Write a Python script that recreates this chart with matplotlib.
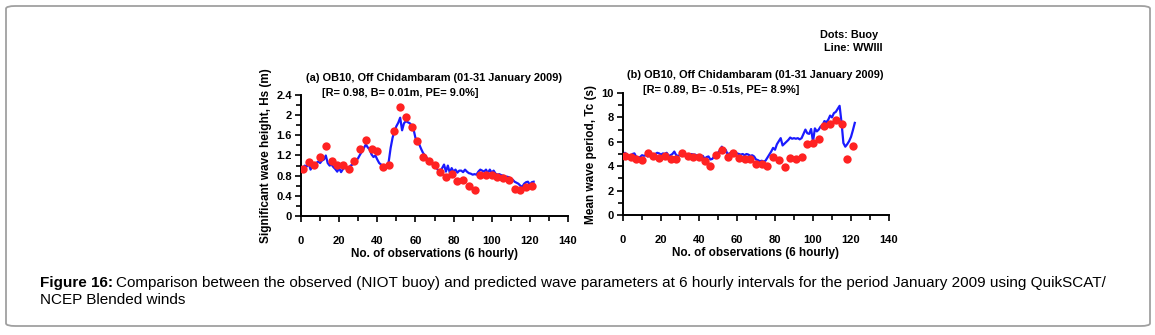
import matplotlib
matplotlib.use("Agg")
import matplotlib.pyplot as plt
from matplotlib.patches import FancyBboxPatch
from matplotlib.ticker import MultipleLocator, FuncFormatter

plt.rcParams['font.family'] = ['Liberation Sans', 'DejaVu Sans']

# ---------------- data ----------------
buoy_x = [1, 4, 7, 10, 13, 16, 19, 22, 25, 28, 31, 34, 37, 40, 43, 46, 49, 52, 55, 58,
          61, 64, 67, 70, 73, 76, 79, 82, 85, 88, 91, 94, 97, 100, 103, 106, 109, 112,
          115, 118, 121]

hs_buoy = [0.94, 1.07, 1.02, 1.18, 1.38, 1.10, 1.01, 1.02, 0.94, 1.09, 1.33, 1.50, 1.32,
           1.28, 0.98, 1.02, 1.69, 2.16, 1.97, 1.77, 1.48, 1.18, 1.09, 1.01, 0.88, 0.77,
           0.84, 0.69, 0.72, 0.60, 0.52, 0.82, 0.81, 0.81, 0.78, 0.75, 0.72, 0.54, 0.52,
           0.58, 0.60]

tc_buoy = [4.85, 4.77, 4.60, 4.52, 5.07, 4.82, 4.68, 4.82, 4.55, 4.60, 5.07, 4.82, 4.74,
           4.74, 4.44, 4.05, 4.88, 5.34, 4.79, 5.12, 4.68, 4.55, 4.63, 4.22, 4.22, 4.00,
           4.77, 4.47, 3.97, 4.71, 4.63, 4.74, 5.84, 5.89, 6.22, 7.29, 7.45, 7.75, 7.45,
           4.55, 5.67]

model_x = list(range(0, 123))

hs_model = [0.92, 0.95, 1.00, 0.98, 1.05, 0.92, 0.98, 1.00, 1.05, 1.08,
            1.05, 1.10, 1.12, 1.20, 1.05, 1.00, 1.02, 0.97, 0.93, 0.88,
            0.95, 0.87, 0.93, 0.97, 0.93, 0.95, 1.00, 1.02, 1.05, 1.10,
            1.15, 1.22, 1.28, 1.35, 1.42, 1.36, 1.32, 1.22, 1.17, 1.20,
            1.12, 1.05, 1.02, 0.98, 0.98, 1.00, 1.08, 1.35, 1.55, 1.68,
            1.78, 1.85, 1.95, 1.70, 1.84, 1.88, 1.86, 1.84, 1.80, 1.72,
            1.55, 1.47, 1.42, 1.33, 1.25, 1.20, 1.15, 1.10, 1.08, 1.02,
            1.00, 0.96, 0.90, 0.88, 0.95, 1.02, 0.88, 1.00, 0.86, 0.95,
            0.88, 0.92, 0.86, 0.90, 0.90, 0.87, 0.92, 0.88, 0.85, 0.84,
            0.82, 0.83, 0.82, 0.88, 0.92, 0.90, 0.88, 0.92, 0.85, 0.92,
            0.86, 0.90, 0.84, 0.82, 0.83, 0.81, 0.80, 0.78, 0.78, 0.77,
            0.74, 0.72, 0.68, 0.66, 0.64, 0.60, 0.58, 0.64, 0.67, 0.68,
            0.62, 0.67, 0.68]

tc_model = [4.90, 5.10, 4.95, 4.85, 4.80, 5.00, 5.05, 4.75, 4.70, 4.75,
            4.90, 4.85, 4.90, 4.80, 5.10, 5.00, 4.95, 5.00, 5.10, 5.05,
            4.95, 5.05, 5.00, 5.10, 4.85, 4.90, 5.00, 5.20, 4.90, 4.85,
            4.90, 5.00, 5.05, 4.95, 4.95, 4.90, 5.00, 4.95, 4.95, 4.85,
            4.90, 4.75, 4.85, 4.60, 4.75, 4.80, 4.55, 4.60, 4.80, 4.95,
            5.10, 5.30, 5.60, 5.25, 5.35, 5.00, 5.05, 5.10, 4.95, 5.10,
            5.05, 5.00, 4.95, 5.00, 4.90, 5.00, 4.95, 4.85, 4.90, 4.80,
            4.55, 4.50, 4.40, 4.45, 4.38, 4.45, 4.70, 4.95, 5.20, 5.50,
            5.35, 5.80, 6.05, 6.30, 5.70, 5.85, 6.00, 6.15, 6.35, 6.25,
            6.30, 6.25, 6.30, 6.20, 6.30, 6.65, 7.00, 6.70, 6.65, 7.05,
            6.00, 7.10, 6.85, 7.00, 7.25, 7.35, 7.70, 7.60, 7.80, 8.15,
            8.00, 8.35, 8.45, 8.70, 8.95, 7.60, 5.90, 5.60, 5.80, 6.05,
            6.40, 6.95, 7.55]

title_a = "(a) OB10, Off Chidambaram (01-31 January 2009)"
stats_a = "[R= 0.98, B= 0.01m, PE= 9.0%]"
title_b = "(b) OB10, Off Chidambaram (01-31 January 2009)"
stats_b = "[R= 0.89, B= -0.51s, PE= 8.9%]"
ylabel_a = "Significant wave height, Hs (m)"
ylabel_b = "Mean wave period, Tc (s)"
xlabel = "No. of observations (6 hourly)"
caption_bold = "Figure 16:"
caption_1 = ("Comparison between the observed (NIOT buoy) and predicted wave parameters "
             "at 6 hourly intervals for the period January 2009 using QuikSCAT/")
caption_2 = "NCEP Blended winds"

# ---------------- figure ----------------
W, H = 1155, 335
fig = plt.figure(figsize=(W / 100, H / 100), dpi=100)
fig.patch.set_facecolor('white')


def px_axes(x0, y0, x1, y1):
    return fig.add_axes([x0 / W, 1 - y1 / H, (x1 - x0) / W, (y1 - y0) / H])


def fx(x):
    return x / W


def fy(y):
    return 1 - y / H


# outer rounded frame
box = FancyBboxPatch((fx(6), fy(326)), fx(1150) - fx(6), fy(6) - fy(326),
                     boxstyle="round,pad=0,rounding_size=0.008",
                     transform=fig.transFigure, facecolor='none',
                     edgecolor='#a0a0a0', linewidth=1.3)
fig.patches.append(box)

LINE_C = '#1a1aff'
DOT_C = '#ff2222'


def style_axes(ax, ymax, ymajor, yminor, yfmt):
    ax.set_xlim(0, 140)
    ax.set_ylim(0, ymax)
    for s in ['top', 'right']:
        ax.spines[s].set_visible(False)
    for s in ['left', 'bottom']:
        ax.spines[s].set_linewidth(1.4)
    ax.xaxis.set_major_locator(MultipleLocator(20))
    ax.xaxis.set_minor_locator(MultipleLocator(10))
    ax.yaxis.set_major_locator(MultipleLocator(ymajor))
    ax.yaxis.set_minor_locator(MultipleLocator(yminor))
    ax.yaxis.set_major_formatter(yfmt)
    ax.tick_params(which='major', direction='out', length=4.5, width=1.2,
                   labelsize=8)
    ax.tick_params(axis='x', which='major', pad=10)
    ax.tick_params(axis='y', which='major', pad=2)
    ax.tick_params(which='minor', direction='out', length=3.5, width=1.2)
    for lab in ax.get_xticklabels() + ax.get_yticklabels():
        lab.set_fontweight('bold')
    ax.set_xlabel(xlabel, fontsize=8.5, fontweight='bold', labelpad=1)


def fmt_a(v, pos):
    return "0" if abs(v) < 1e-9 else ("%g" % round(v, 1))


# panel (a)
ax1 = px_axes(301, 95, 568, 216)
ax1.plot(model_x, hs_model, color=LINE_C, lw=1.6, zorder=2)
ax1.plot(buoy_x, hs_buoy, 'o', color=DOT_C, ms=6, mec='none', zorder=3)
style_axes(ax1, 2.4, 0.4, 0.2, FuncFormatter(fmt_a))
ax1.set_ylabel(ylabel_a, fontsize=8.5, fontweight='bold', labelpad=3)

# panel (b)
ax2 = px_axes(623, 93, 889, 215)
ax2.plot(model_x, tc_model, color=LINE_C, lw=1.6, zorder=2)
ax2.plot(buoy_x, tc_buoy, 'o', color=DOT_C, ms=6, mec='none', zorder=3)
style_axes(ax2, 10, 2, 1, FuncFormatter(lambda v, p: "%d" % v))
ax2.set_ylabel(ylabel_b, fontsize=8.5, fontweight='bold', labelpad=3)

# titles
fig.text(fx(434), fy(78), title_a, ha='center', va='center', fontsize=7.9, fontweight='bold')
fig.text(fx(322), fy(93), stats_a, ha='left', va='center', fontsize=7.9, fontweight='bold')
fig.text(fx(755), fy(75), title_b, ha='center', va='center', fontsize=7.9, fontweight='bold')
fig.text(fx(643), fy(90), stats_b, ha='left', va='center', fontsize=7.9, fontweight='bold')

# legend text
fig.text(fx(849), fy(35), "Dots: Buoy", ha='center', va='center', fontsize=7.8, fontweight='bold')
fig.text(fx(853), fy(48), "Line: WWIII", ha='center', va='center', fontsize=7.8, fontweight='bold')

# caption
cap1 = fig.text(fx(40), fy(283), caption_bold, ha='left', va='center', fontsize=11, fontweight='bold')
fig.canvas.draw()
bb = cap1.get_window_extent()
fig.text(bb.x1 / W + 3 / W, fy(283), caption_1, ha='left', va='center', fontsize=11)
fig.text(fx(40), fy(300), caption_2, ha='left', va='center', fontsize=11)

fig.savefig("out.png", dpi=100, facecolor='white')
